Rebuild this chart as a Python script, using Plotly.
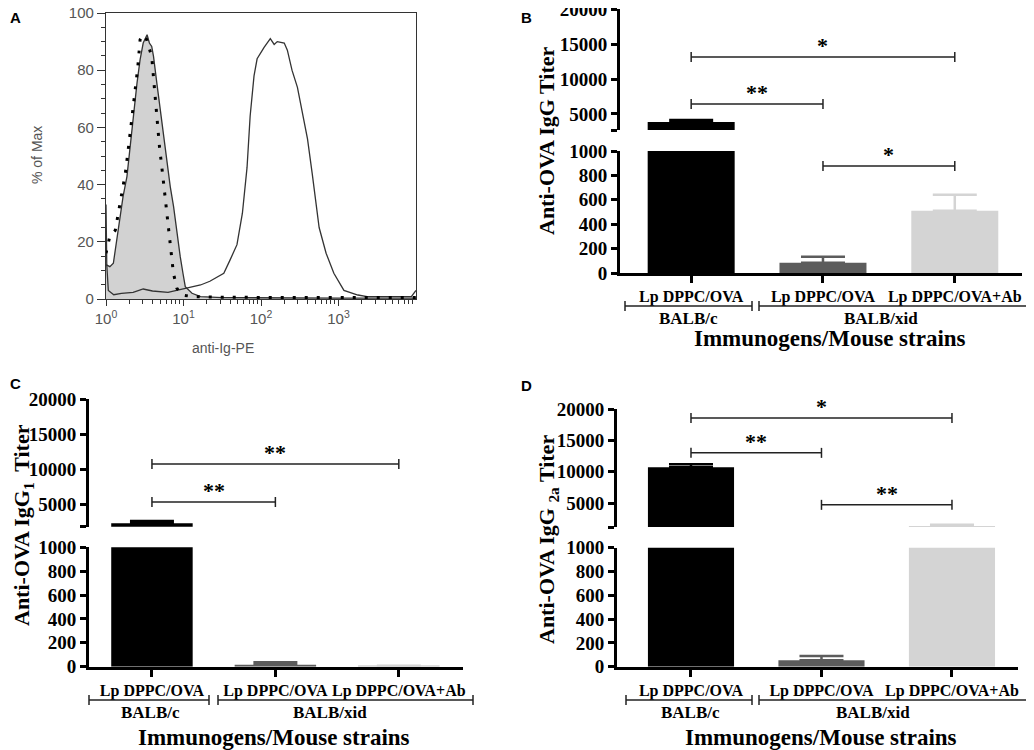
import numpy as np
import plotly.graph_objects as go

# the page body keeps its default 8px margin, so the figure is drawn 8px in
OFF = 8
W, H = 1034 - OFF, 750 - OFF


def px(x):
    return (x - OFF) / W


def py(y):
    return 1 - (y - OFF) / H


# ---------------- panel A: flow histograms (log10 anti-Ig-PE, % of max)
ctrl_log = [0.0, 0.05, 0.095, 0.14, 0.18, 0.22, 0.27, 0.31, 0.35, 0.40, 0.44, 0.48, 0.53,
            0.56, 0.59, 0.613, 0.656, 0.699, 0.742, 0.786, 0.829, 0.872, 0.915, 0.958,
            0.993, 1.023, 1.11, 1.22, 1.5, 2.0, 3.0, 4.0]
ctrl_pct = [12, 11.3, 12.5, 20.7, 28.8, 35.8, 42.8, 53.3, 63.8, 75.5, 83.7, 89.5, 92.4,
            89.5, 88.3, 84.8, 75.5, 66.2, 56.8, 47.5, 39.3, 32.3, 23.0, 14.8,
            9.0, 4.3, 2.0, 0.8, 0.5, 0.4, 0.3, 0.3]

iso_log = [0.0, 0.05, 0.12, 0.16, 0.2, 0.25, 0.29, 0.33, 0.375, 0.41, 0.44, 0.475, 0.52,
           0.59, 0.634, 0.69, 0.734, 0.77, 0.81, 0.84, 0.87, 0.915, 0.98, 1.13, 1.6,
           2.5, 3.3, 4.0]
iso_pct = [16, 22, 24, 30, 37, 44, 53, 62.7, 74, 81, 90.7, 92.4, 91,
           84.8, 70.8, 53.3, 42.8, 33.5, 24, 16, 9, 3.7, 1.4, 0.8, 0.6,
           0.5, 0.5, 0.5]

ig_log = [0.0, 0.01, 0.03, 0.1, 0.2, 0.35, 0.48, 0.6, 0.8, 1.0, 1.1, 1.22, 1.34, 1.52,
          1.6, 1.69, 1.76, 1.82, 1.86, 1.91, 1.95, 2.04, 2.12, 2.17, 2.21, 2.3, 2.34,
          2.4, 2.47, 2.53, 2.6, 2.66, 2.75, 2.84, 2.94, 3.07, 3.25, 3.37, 3.7, 3.94, 4.0]
ig_pct = [33, 12, 3, 1.5, 2, 2.3, 3.5, 2.8, 2.3, 3.5, 4, 4.9, 6.2, 9,
          13.6, 19, 30, 46, 64, 78, 84, 88, 91, 89, 90, 89.5, 87,
          80, 74, 66, 56, 44, 25, 16, 9, 3, 1.4, 0.8, 0.8, 0.8, 3]

# ---------------- panels B-D: titers
cat_labels = ["Lp DPPC/OVA", "Lp DPPC/OVA", "Lp DPPC/OVA+Ab"]
strain_labels = ["BALB/c", "BALB/xid"]
bar_colors = ["#000000", "#5c5c5c", "#d4d4d4"]

igg_mean = [3850, 84, 511]
igg_sem = [300, 50, 130]
igg1_mean = [2290, 17, 5]
igg1_sem = [330, 20, 4]
igg2a_mean = [10700, 55, 1350]
igg2a_sem = [500, 35, 200]

# (from bar, to bar, titer level, stars)
igg_sig = [(0, 2, 13170, "*"), (0, 1, 6430, "**"), (1, 2, 877, "*")]
igg1_sig = [(0, 2, 10760, "**"), (0, 1, 5330, "**")]
igg2a_sig = [(0, 2, 18580, "*"), (0, 1, 13010, "**"), (1, 2, 4730, "**")]

SERIF = "Liberation Serif"
SANS = "Liberation Sans"
BREAK = 1000

fig = go.Figure()
shapes = []
annotations = []
layout = {}


def note(text, x, y, size, family=SERIF, color="black", bold=True, angle=0):
    annotations.append(dict(text=text, x=px(x), y=py(y), xref="paper", yref="paper",
                            xanchor="center", yanchor="middle", textangle=angle,
                            showarrow=False,
                            font=dict(family=family, size=size, color=color,
                                      weight="bold" if bold else "normal")))


# ================= panel A
fig.add_trace(go.Scatter(x=10 ** np.array(ctrl_log), y=ctrl_pct, mode="lines",
                         fill="tozeroy", fillcolor="#d2d2d2",
                         line=dict(color="#333333", width=1.3),
                         xaxis="x", yaxis="y", showlegend=False, hoverinfo="skip"))
fig.add_trace(go.Scatter(x=10 ** np.array(ig_log), y=ig_pct, mode="lines",
                         line=dict(color="#333333", width=1.3),
                         xaxis="x", yaxis="y", showlegend=False, hoverinfo="skip"))
fig.add_trace(go.Scatter(x=10 ** np.array(iso_log), y=iso_pct, mode="lines",
                         line=dict(color="#000000", width=3, dash="3px,9px"),
                         xaxis="x", yaxis="y", showlegend=False, hoverinfo="skip"))

minor_x = [m * 10 ** d for d in range(4) for m in range(2, 10)]
layout["xaxis"] = dict(
    type="log", domain=[px(106), px(416)], range=[0, 4], anchor="y", automargin=False,
    showline=True, mirror=True, linecolor="#333333", linewidth=1.3,
    ticks="outside", ticklen=6, tickcolor="#333333", ticklabeloverflow="allow",
    tickvals=[1, 10, 100, 1000],
    ticktext=["10<sup>0</sup>", "10<sup>1</sup>", "10<sup>2</sup>", "10<sup>3</sup>"],
    tickfont=dict(family=SANS, size=15, color="#555555"),
    minor=dict(ticks="outside", ticklen=4, tickcolor="#333333", tickvals=minor_x),
    showgrid=False, zeroline=False)
layout["yaxis"] = dict(
    domain=[py(299), py(13)], range=[0, 100], anchor="x", automargin=False,
    showline=True, mirror=True, linecolor="#333333", linewidth=1.3,
    ticks="outside", ticklen=8, tickcolor="#333333", tick0=0, dtick=20,
    ticklabeloverflow="allow",
    tickfont=dict(family=SANS, size=15, color="#555555"),
    minor=dict(ticks="outside", ticklen=4, tickcolor="#333333", dtick=5),
    showgrid=False, zeroline=False)
note("% of Max", 37, 155, 14, family=SANS, color="#555555", bold=False, angle=-90)
note("anti-Ig-PE", 223, 348, 14, family=SANS, color="#555555", bold=False)


# ================= bar panels with broken axis
def bar_panel(k, lo, up, means, sems, sig, cfg):
    xa, ya_lo, ya_up = f"x{k}", f"y{lo}", f"y{up}"
    ub = cfg["upper_bottom"]
    for i, (m, s, c) in enumerate(zip(means, sems, bar_colors)):
        err = dict(type="data", symmetric=False, array=[s], arrayminus=[0],
                   color=c, thickness=2.5, width=22)
        fig.add_trace(go.Bar(x=[i], y=[m], width=0.66, marker=dict(color=c, line_width=0),
                             error_y=err if m < BREAK else dict(visible=False),
                             xaxis=xa, yaxis=ya_lo, showlegend=False, hoverinfo="skip"))
        fig.add_trace(go.Bar(x=[i], y=[m], width=0.66, marker=dict(color=c, line_width=0),
                             error_y=err if m > ub else dict(visible=False),
                             xaxis=xa, yaxis=ya_up, showlegend=False, hoverinfo="skip"))

    axis_common = dict(showline=True, linecolor="black", linewidth=3, ticks="outside",
                       ticklen=6, tickwidth=3, tickcolor="black", showgrid=False,
                       zeroline=False, automargin=False, ticklabeloverflow="allow",
                       tickfont=dict(family=SERIF, size=19, color="black", weight="bold"))
    layout[f"xaxis{k}"] = dict(axis_common, domain=[px(cfg["x0"]), px(cfg["x1"])],
                               range=cfg["xrange"], anchor=ya_lo, tickvals=[0, 1, 2],
                               ticktext=cat_labels, tickangle=0, ticklen=7,
                               tickfont=dict(family=SERIF, size=16, color="black",
                                             weight="bold"))
    layout[f"yaxis{lo}"] = dict(axis_common, domain=[py(cfg["lo_bot"]), py(cfg["lo_top"])],
                                range=[0, BREAK], anchor=xa,
                                tickvals=[0, 200, 400, 600, 800, 1000])
    up_ticks = [ub, 5000, 10000, 15000, 20000]
    layout[f"yaxis{up}"] = dict(axis_common, domain=[py(cfg["up_bot"]), py(cfg["up_top"])],
                                range=[ub, 20000], anchor=xa, tickvals=up_ticks,
                                ticktext=[""] + [str(v) for v in up_ticks[1:]])

    # significance brackets
    for a, b, level, stars in sig:
        yref = ya_lo if level < BREAK else ya_up
        ln = dict(color="#222222", width=1.5)
        shapes.append(dict(type="line", xref=xa, yref=yref, x0=a, x1=b, y0=level, y1=level,
                           line=ln))
        for xe in (a, b):
            shapes.append(dict(type="line", xref=xa, yref=yref, x0=xe, x1=xe,
                               ysizemode="pixel", yanchor=level, y0=-5, y1=5, line=ln))
        annotations.append(dict(text=stars, x=(a + b) / 2, y=level, xref=xa, yref=yref,
                                xanchor="center", yanchor="bottom", yshift=-3,
                                showarrow=False,
                                font=dict(family=SERIF, size=22, color="black",
                                          weight="bold")))

    # strain group brackets
    gy = cfg["group_y"]
    for (g0, g1), name, cx in zip(cfg["groups"], strain_labels, cfg["group_cx"]):
        ln = dict(color="#222222", width=1.5)
        shapes.append(dict(type="line", xref="paper", yref="paper", x0=px(g0), x1=px(g1),
                           y0=py(gy), y1=py(gy), line=ln))
        for xe in (g0, g1):
            shapes.append(dict(type="line", xref="paper", yref="paper", x0=px(xe), x1=px(xe),
                               y0=py(gy - 5), y1=py(gy + 5), line=ln))
        note(name, cx, gy + 12, 17)
    note("Immunogens/Mouse strains", cfg["title_x"], cfg["title_y"], 23)
    note(cfg["ytitle"], cfg["ytitle_x"], cfg["ytitle_y"], 22, angle=-90)


bar_panel(2, 2, 3, igg_mean, igg_sem, igg_sig, dict(
    x0=620, x1=1022, xrange=[-0.54, 2.51], lo_bot=273, lo_top=151, up_bot=130, up_top=9.3,
    upper_bottom=2700, group_y=306, groups=[(625, 752), (759, 1030)], group_cx=[688, 881],
    title_x=830, title_y=338, ytitle="Anti-OVA IgG Titer", ytitle_x=547, ytitle_y=141))

bar_panel(3, 4, 5, igg1_mean, igg1_sem, igg1_sig, dict(
    x0=89, x1=463, xrange=[-0.51, 2.52], lo_bot=666.7, lo_top=547.3, up_bot=526.7,
    up_top=399.3, upper_bottom=1800, group_y=700, groups=[(89, 209), (218, 473)],
    group_cx=[150, 330], title_x=274, title_y=737,
    ytitle="Anti-OVA IgG<sub>1</sub>  Titer", ytitle_x=23, ytitle_y=525))

bar_panel(4, 6, 7, igg2a_mean, igg2a_sem, igg2a_sig, dict(
    x0=617, x1=1018, xrange=[-0.567, 2.506], lo_bot=666.7, lo_top=547.7, up_bot=527,
    up_top=409, upper_bottom=1200, group_y=700, groups=[(626, 752), (759, 1029)],
    group_cx=[690, 873], title_x=821, title_y=737,
    ytitle="Anti-OVA IgG <sub>2a</sub> Titer", ytitle_x=548, ytitle_y=540))

# panel letters
for letter, (lx, ly) in zip("ABCD", [(15, 17), (526, 17), (15, 383), (526, 385)]):
    note(letter, lx, ly, 15, family=SANS)

fig.update_layout(
    width=W, height=H, margin=dict(l=0, r=0, t=0, b=0, autoexpand=False),
    paper_bgcolor="white", plot_bgcolor="white", barmode="overlay",
    shapes=shapes, annotations=annotations, **layout)

fig.write_html("out.html")
